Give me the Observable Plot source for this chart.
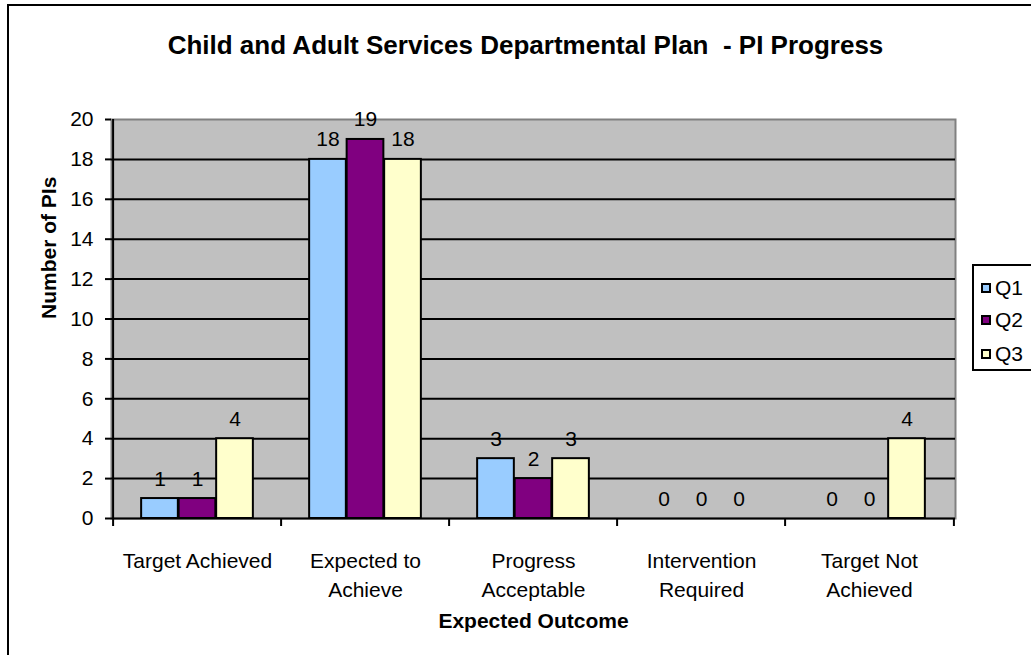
<!DOCTYPE html>
<html><head><meta charset="utf-8">
<script src="https://cdn.jsdelivr.net/npm/d3@7"></script>
<script src="https://cdn.jsdelivr.net/npm/@observablehq/plot@0.6"></script>
<style>
body{margin:0;background:#fff;}
#wrap{position:relative;width:1031px;height:655px;overflow:hidden;font-family:"Liberation Sans",Arial,sans-serif;background:#fff;}
#border{position:absolute;left:7px;top:4px;width:1100px;height:700px;border:2px solid #000;box-sizing:border-box;}
#chart{position:absolute;left:0;top:0;}
#legend{position:absolute;left:972px;top:264px;width:100px;height:107px;border:2px solid #000;box-sizing:border-box;background:#fff;}
.item{position:absolute;left:7px;height:22px;font-size:21px;line-height:22px;color:#000;white-space:nowrap;}
.sw{position:absolute;left:0;top:6px;width:10px;height:10px;border:2px solid #000;box-sizing:border-box;}
.lab{position:absolute;left:14px;top:0;}
</style>
</head><body>
<div id="wrap"><div id="border"></div><div id="chart"></div><div id="legend"></div></div>
<script>
const title = "Child and Adult Services Departmental Plan  - PI Progress";
const xTitle = "Expected Outcome";
const yTitle = "Number of PIs";
const categories = ["Target Achieved","Expected to Achieve","Progress Acceptable","Intervention Required","Target Not Achieved"];
const categoryLabels = ["Target Achieved","Expected to\nAchieve","Progress\nAcceptable","Intervention\nRequired","Target Not\nAchieved"];
const series = ["Q1","Q2","Q3"];
const q1 = [1,18,3,0,0];
const q2 = [1,19,2,0,0];
const q3 = [4,18,3,0,4];
const yTicks = [0,2,4,6,8,10,12,14,16,18,20];
const colors = ["#99ccff","#800080","#ffffcc"];

const values = [q1,q2,q3];
const W=1031,H=655,ML=111,MR=76,MT=119,MB=137;
const step=(W-ML-MR)/categories.length;
const bw=step/4.5;
const gap=(step-3*bw)/2;
const table = series.map((s,i)=>categories.map((c,j)=>({category:c, series:s, value:values[i][j]})));
const labelOf = new Map(categories.map((c,j)=>[c,categoryLabels[j]]));

const chart = Plot.plot({
  width:W, height:H, marginLeft:ML, marginRight:MR, marginTop:MT, marginBottom:MB,
  style:{fontFamily:"'Liberation Sans', Arial, sans-serif", fontSize:"21px", background:"transparent", overflow:"visible", color:"#000"},
  x:{domain:categories, padding:0},
  y:{domain:[0,20]},
  marks:[
    Plot.frame({fill:"#c0c0c0", stroke:"#808080", strokeWidth:2}),
    Plot.gridY(yTicks.filter(t=>t>0&&t<20), {stroke:"#000", strokeOpacity:1, strokeWidth:2}),
    ...series.map((s,i)=>Plot.barY(table[i], {x:"category", y:"value", fill:colors[i], stroke:"#000", strokeWidth:2,
        insetLeft:gap+i*bw, insetRight:step-gap-(i+1)*bw})),
    ...series.map((s,i)=>Plot.text(table[i], {x:"category", y:"value", text:d=>String(d.value), dx:(i-1)*bw, dy:-13,
        lineAnchor:"bottom", fontSize:21, fill:"#000"})),
    Plot.ruleY([0], {stroke:"#000", strokeWidth:2}),
    Plot.ruleX([categories[0]], {x:d=>d, dx:-step/2, y1:0, y2:20, stroke:"#000", strokeWidth:2}),
    Plot.ruleX(categories, {x:d=>d, dx:-step/2, y1:0, y2:0, insetBottom:-8, stroke:"#000", strokeWidth:2}),
    Plot.ruleX([categories[categories.length-1]], {x:d=>d, dx:step/2, y1:0, y2:0, insetBottom:-8, stroke:"#000", strokeWidth:2}),
    Plot.axisY(yTicks, {tickSize:6, tickPadding:12, fontSize:21, strokeWidth:2, label:null}),
    Plot.axisX({tickSize:0, tickPadding:29, fontSize:21, lineHeight:1.38, label:null, tickFormat:d=>labelOf.get(d)}),
    Plot.text([xTitle], {text:d=>d, frameAnchor:"bottom", dy:109, lineAnchor:"bottom", fontWeight:"bold", fontSize:21, fill:"#000"}),
    Plot.text([yTitle], {text:d=>d, frameAnchor:"left", dx:-62, rotate:-90, fontWeight:"bold", fontSize:21, fill:"#000"}),
    Plot.text([title], {text:d=>d, frameAnchor:"top", dy:-66, dx:-8, lineAnchor:"bottom", fontWeight:"bold", fontSize:26, fill:"#000"})
  ]
});
document.getElementById("chart").appendChild(chart);

const legend = document.getElementById("legend");
const legendTops = [11, 43, 77];
series.forEach((s,i)=>{
  const it = document.createElement("div");
  it.className="item";
  it.style.top = legendTops[i]+"px";
  const sw = document.createElement("span"); sw.className="sw"; sw.style.background=colors[i];
  const lb = document.createElement("span"); lb.className="lab"; lb.textContent=s;
  it.appendChild(sw); it.appendChild(lb);
  legend.appendChild(it);
});
</script>
</body></html>
